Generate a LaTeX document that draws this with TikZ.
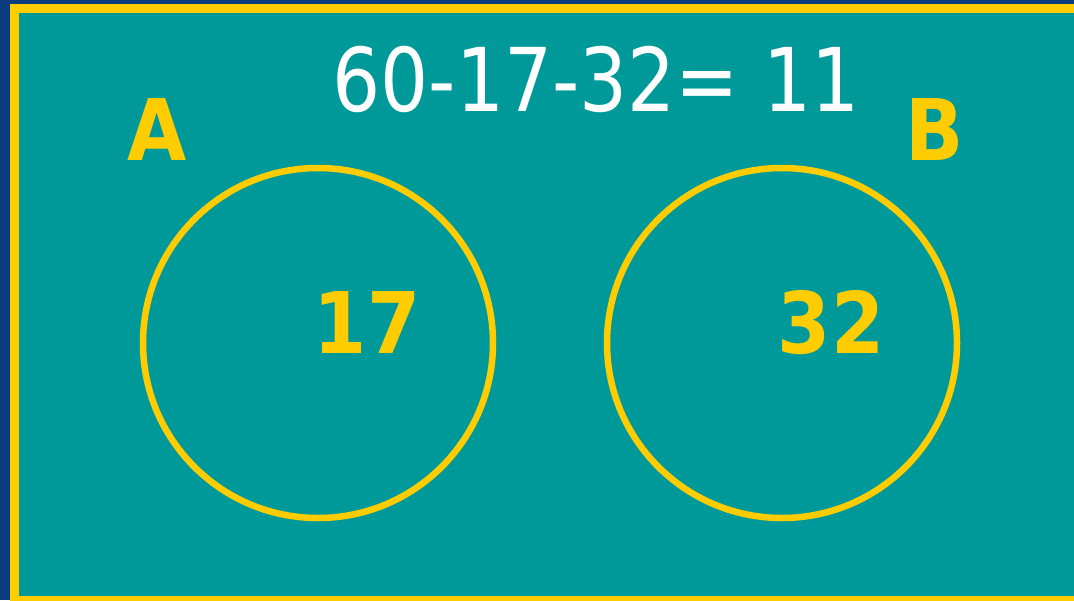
\documentclass[tikz,border=0pt]{standalone}
\usepackage{fontspec}
\setmainfont{DejaVu Sans Condensed}
\usetikzlibrary{positioning}
\definecolor{cnavy}{HTML}{0B3D7E}
\definecolor{cteal}{HTML}{009999}
\definecolor{cgold}{HTML}{FFCC00}
\tikzset{
  every picture/.style={x=1pt, y=-1pt},
  ring/.style={circle, draw=cgold, line width=6.5pt, minimum size=350pt, inner sep=0pt},
  setname/.style={text=cgold, font=\fontsize{85}{85}\selectfont\bfseries, anchor=base, inner sep=0pt},
  count/.style={text=cgold, font=\fontsize{85}{85}\selectfont\bfseries, anchor=base, inner sep=0pt},
  sum/.style={text=white, font=\fontsize{88}{88}\selectfont, anchor=base, inner sep=0pt},
}
\begin{document}
\begin{tikzpicture}
  \useasboundingbox (0,0) rectangle (1074,600);
  \clip (0,0) rectangle (1074,600);
  \fill[cnavy] (0,0) rectangle (1074,600);
  \draw[cgold, fill=cteal, line width=9pt] (14.5,8.5) rectangle (1090,600);
  % universe total
  \node[sum] (eq) at (596,111) {\scalebox{0.955}[1]{60-17-32= 11}};
  \node[setname] (labA) at (157,160) {A};
  \node[setname] (labB) at (935,160) {B};
  % the two sets
  \node[ring] (setA) at (318,343) {};
  \node[ring] (setB) at (782,343) {};
  \node[count] (nA) at (367,353) {17};
  \node[count] (nB) at (831,353) {32};
\end{tikzpicture}
\end{document}
